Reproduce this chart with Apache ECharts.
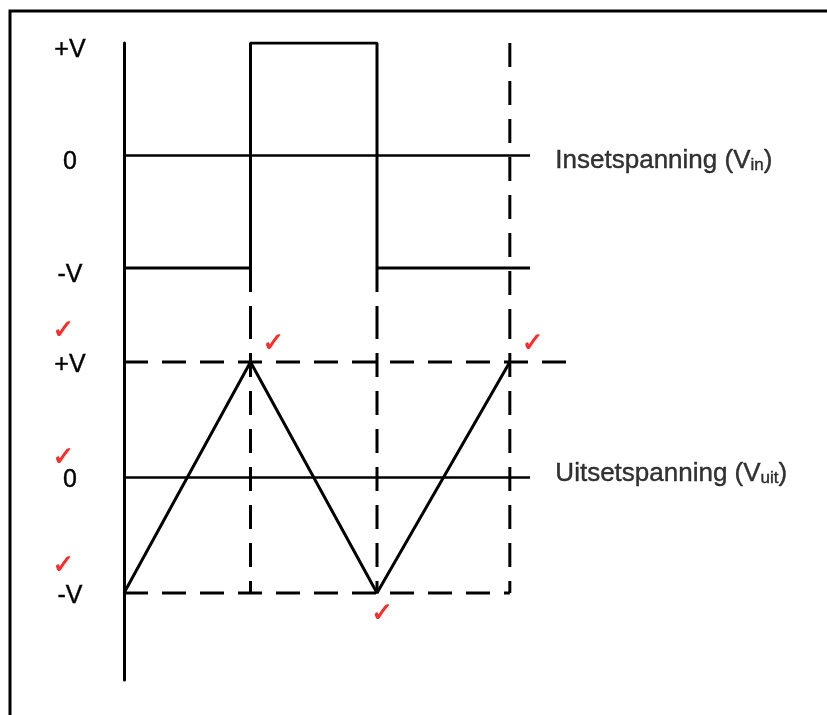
<!DOCTYPE html>
<html>
<head>
<meta charset="utf-8">
<style>
  html, body { margin: 0; padding: 0; background: #fff; }
  #main { width: 827px; height: 715px; }
</style>
<script src="https://cdn.jsdelivr.net/npm/echarts@6/dist/echarts.min.js"></script>
</head>
<body>
<div id="main"></div>
<script>
// 电平刻度
const levelValues = [-1, 0, 1];
const levelNames = ['-V', '0', '+V'];

// 输入方波 (t, V)
const vinSquare = [[0, -1], [1, -1], [1, 1], [2, 1], [2, -1], [3.21, -1]];
// 输出三角波
const voutTriangle = [[0, -1], [1, 1], [2, -1], [3.05, 1]];
// 零线
const zeroLine = [[0, 0], [3.21, 0]];
// 竖直虚线所在时刻
const guideTimes = [1, 2, 3.05];
// 水平虚线
const vPlusGuide = [[0, 1], [3.55, 1]];
const vMinusGuide = [[0, -1], [3.05, -1]];
// 红色勾号
const checkMarks = [[-0.48, 1.27], [-0.48, 0.17], [-0.48, -0.77], [1.18, 1.15], [3.23, 1.15], [2.04, -1.18]];
// 文字标签
const vinLabelPos = [3.41, 0];
const voutLabelPos = [3.41, 0];

const TOP_MIN = -1.4178, BOT_MAX = 1.4069, BOT_MIN = -1.7532;

const chart = echarts.init(document.getElementById('main'));

const dash = [24, 14];
function solid(name, data, idx, width) {
    return {
        name: name, type: 'line', xAxisIndex: idx, yAxisIndex: idx,
        data: data, symbol: 'none', silent: true, animation: false,
        lineStyle: { color: '#000', width: width || 3 }
    };
}
function dashed(data, idx) {
    return {
        type: 'line', xAxisIndex: idx, yAxisIndex: idx,
        data: data, symbol: 'none', silent: true, animation: false,
        lineStyle: { color: '#000', width: 3, type: dash }
    };
}
function textMark(pos, idx, main, sub, offY) {
    const txt = { color: '#000', verticalAlign: 'bottom', textBorderColor: '#000', textBorderWidth: 0.4 };
    return {
        type: 'scatter', xAxisIndex: idx, yAxisIndex: idx, clip: false,
        data: [pos], symbolSize: 0, silent: true, animation: false,
        label: {
            show: true, position: 'right', distance: 0, offset: [0, offY],
            color: '#000',
            formatter: '{m|' + main + '}{s|' + sub + '}{m|)}',
            rich: {
                m: Object.assign({ fontFamily: 'Liberation Sans', fontSize: 26, lineHeight: 30 }, txt),
                s: Object.assign({ fontFamily: 'Liberation Sans', fontSize: 17, lineHeight: 27 }, txt)
            }
        }
    };
}

const series = [];
// 上图
series.push(solid('zero-in', zeroLine, 0, 2.5));
series.push(solid('Vin', vinSquare, 0));
series.push(dashed([[guideTimes[2], 1], [guideTimes[2], TOP_MIN]], 0));
series.push(dashed([[guideTimes[0], -1], [guideTimes[0], TOP_MIN]], 0));
series.push(dashed([[guideTimes[1], -1], [guideTimes[1], TOP_MIN]], 0));
series.push(textMark(vinLabelPos, 0, 'Insetspanning (V', 'in', 3));
// 下图
series.push(solid('zero-out', zeroLine, 1, 2.5));
guideTimes.forEach(function (t) {
    series.push(dashed([[t, BOT_MAX], [t, -1]], 1));
});
series.push(dashed(vPlusGuide, 1));
series.push(dashed(vMinusGuide, 1));
series.push(solid('Vout', voutTriangle, 1));
series.push(textMark(voutLabelPos, 1, 'Uitsetspanning (V', 'uit', -6));
series.push({
    type: 'scatter', xAxisIndex: 1, yAxisIndex: 1, clip: false,
    data: checkMarks, symbolSize: 0, silent: true, animation: false,
    label: {
        show: true, position: 'inside', formatter: '✓',
        fontFamily: 'DejaVu Sans', fontSize: 26, color: '#ff0000',
        textBorderColor: '#ff0000', textBorderWidth: 0.8
    }
});

function yAxisCfg(idx, min, max, shift) {
    return {
        type: 'value', gridIndex: idx, min: min, max: max,
        splitLine: { show: false },
        axisTick: { show: false },
        axisLine: { show: true, lineStyle: { color: '#000', width: 3 } },
        axisLabel: {
            show: true, customValues: levelValues, margin: 54, align: 'center',
            color: '#000',
            formatter: function (v) {
                return '{a|' + levelNames[levelValues.indexOf(Math.round(v))] + '}';
            },
            rich: {
                a: {
                    fontFamily: 'Liberation Sans', fontSize: 25, color: '#000',
                    textBorderColor: '#000', textBorderWidth: 0.4,
                    padding: [shift * 2, 0, 0, 0]
                }
            }
        }
    };
}
function xAxisCfg(idx) {
    return { type: 'value', gridIndex: idx, min: 0, max: 5.5, show: false };
}

const option = {
    backgroundColor: '#fff',
    animation: false,
    grid: [
        { left: 124, top: 43, width: 695.75, height: 272 },
        { left: 124, top: 315, width: 695.75, height: 365 }
    ],
    xAxis: [xAxisCfg(0), xAxisCfg(1)],
    yAxis: [yAxisCfg(0, TOP_MIN, 1, 7), yAxisCfg(1, BOT_MIN, BOT_MAX, 3)],
    graphic: [{
        type: 'rect', silent: true,
        shape: { x: 10, y: 11, width: 840, height: 740 },
        style: { fill: 'none', stroke: '#000', lineWidth: 3 }
    }],
    series: series
};
chart.setOption(option);

window.onresize = function () {
    chart.resize();
};
</script>
</body>
</html>
